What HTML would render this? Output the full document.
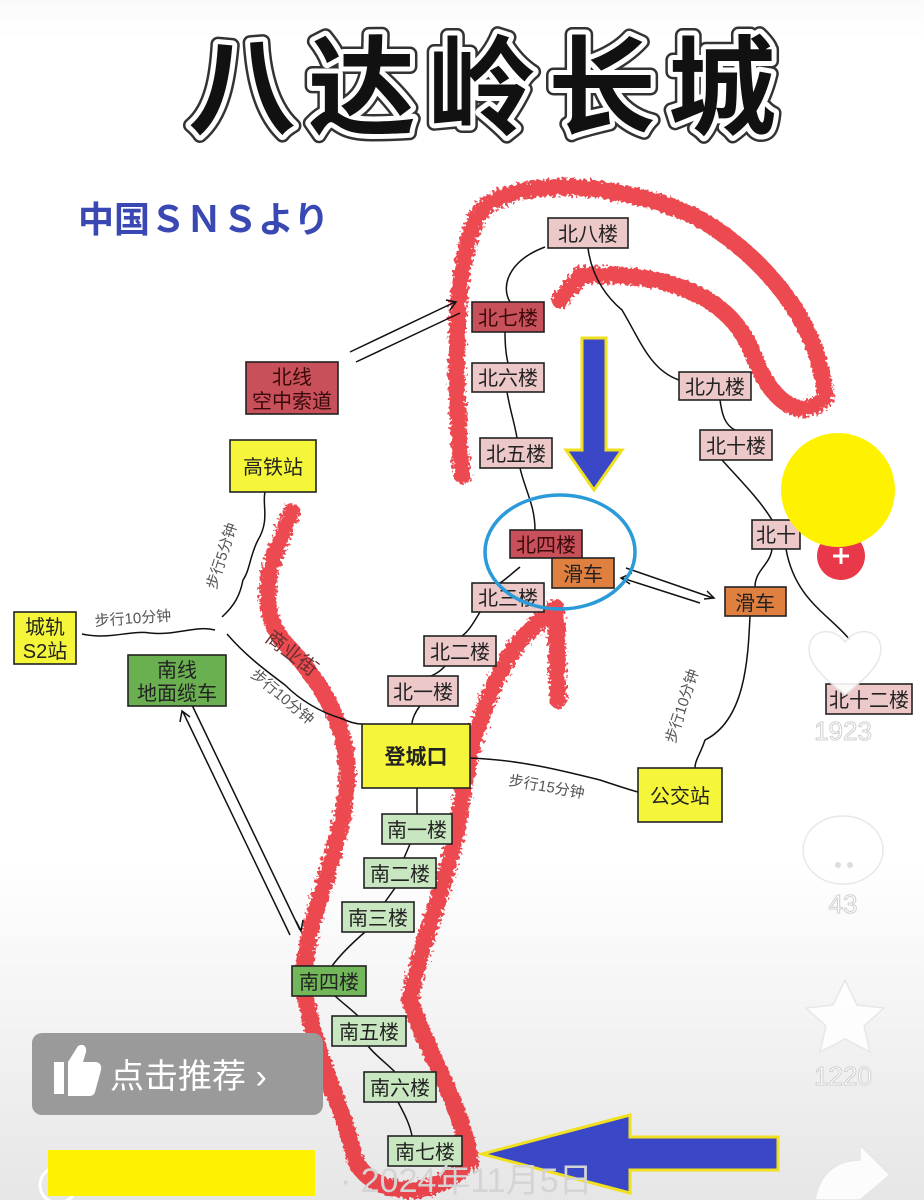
<!DOCTYPE html>
<html><head><meta charset="utf-8"><style>
html,body{margin:0;padding:0;width:924px;height:1200px;overflow:hidden;}
body{background:linear-gradient(#fafafa 0,#ffffff 40px,#ffffff 860px,#e6e6e6 1200px);}
svg{position:absolute;left:0;top:0}
text{font-family:"Liberation Sans","Noto Sans CJK SC",sans-serif;}
</style></head><body>
<svg width="924" height="1200" viewBox="0 0 924 1200" xmlns="http://www.w3.org/2000/svg">
<defs>
<filter id="rough" x="-10%" y="-10%" width="120%" height="120%">
<feTurbulence type="fractalNoise" baseFrequency="0.3" numOctaves="2" result="n"/>
<feDisplacementMap in="SourceGraphic" in2="n" scale="10"/>
</filter>
</defs>
<!-- title -->
<g font-size="108" font-weight="bold" text-anchor="middle" font-family="'Liberation Sans','Noto Sans CJK SC',sans-serif">
<text x="488" y="126" fill="#fff" stroke="#333" stroke-width="15" stroke-linejoin="round" letter-spacing="12">八达岭长城</text>
<text x="488" y="126" fill="#fff" stroke="#fff" stroke-width="10" stroke-linejoin="round" letter-spacing="12">八达岭长城</text>
<text x="488" y="126" fill="#111" letter-spacing="12">八达岭长城</text>
</g>
<text x="78" y="232" font-size="36" font-weight="bold" fill="#3a48b4">中国ＳＮＳより</text>

<!-- red scribbles -->
<g fill="none" stroke="#e8202a" stroke-width="17" stroke-linecap="round" stroke-linejoin="round" filter="url(#rough)" opacity="0.82">
<path d="M462,475 C455,390 450,270 478,215 C510,170 640,185 705,222 C770,262 822,330 825,398 C800,422 772,404 752,352 C728,292 660,272 582,275 L560,300"/>
<path d="M292,512 C270,560 255,600 282,640 C330,690 355,740 345,800 C335,870 300,930 305,990 C315,1060 345,1110 355,1160 C375,1200 440,1200 470,1160 C460,1100 430,1060 410,1000 C420,940 450,880 460,810 C470,740 490,680 520,640 C540,620 550,612 556,608 L558,700"/>
</g>

<!-- connectors -->
<g fill="none" stroke="#111" stroke-width="1.5">
<path d="M545,247 C510,260 500,285 510,302"/>
<path d="M588,248 C592,280 610,300 622,310 C640,340 650,370 679,380"/>
<path d="M505,332 C505,345 506,355 508,363"/>
<path d="M507,392 C510,410 515,425 517,438"/>
<path d="M520,468 C525,490 535,505 535,530"/>
<path d="M520,567 C510,575 505,580 500,583"/>
<path d="M480,612 C475,620 470,630 462,636"/>
<path d="M445,666 C440,672 432,676 430,676"/>
<path d="M420,706 C415,712 412,720 412,724"/>
<path d="M720,400 C722,415 725,425 735,430"/>
<path d="M722,460 C740,480 760,500 772,520"/>
<path d="M772,549 C770,565 755,570 755,587"/>
<path d="M786,549 C795,600 830,615 850,640"/>
<path d="M750,616 C748,660 745,720 705,740 C700,755 695,760 695,768"/>
<path d="M470,758 C520,760 560,770 600,780 C615,785 630,790 638,792"/>
<path d="M417,788 L417,814"/>
<path d="M410,844 L404,858"/>
<path d="M395,888 L385,902"/>
<path d="M365,932 C350,945 340,955 332,966"/>
<path d="M335,996 C345,1005 352,1010 358,1016"/>
<path d="M368,1046 C375,1055 385,1062 395,1072"/>
<path d="M398,1102 C405,1115 410,1125 412,1136"/>
<path d="M265,492 C262,505 270,520 258,540 C250,555 250,570 243,580 C240,595 235,605 222,617"/>
<path d="M82,634 C110,640 130,630 150,633 C175,636 195,625 215,630"/>
<path d="M227,634 C245,655 265,670 285,685 C300,700 320,712 340,718 C350,722 355,724 362,724"/>
</g>
<!-- double arrows -->
<g stroke="#111" stroke-width="1.5" fill="none">
<path d="M350,352 L455,302 M446,300 L456,302 L450,310"/>
<path d="M356,362 L460,313"/>
<path d="M626,568 L713,598 M704,599 L714,598 L707,591"/>
<path d="M622,578 L700,603 M632,573 L621,578 L630,584"/>
<path d="M192,705 L300,930 M296,921 L301,931 L303,920"/>
<path d="M183,712 L290,935 M180,722 L182,711 L190,717"/>
</g>
<!-- connector labels -->
<g font-size="15" fill="#555">
<text x="95" y="626" transform="rotate(-4 95 626)">步行10分钟</text>
<text transform="translate(216,590) rotate(-72)">步行5分钟</text>
<text transform="translate(250,676) rotate(40)">步行10分钟</text>
<text transform="translate(508,785) rotate(10)">步行15分钟</text>
<text transform="translate(675,744) rotate(-72)">步行10分钟</text>
<text transform="translate(264,640) rotate(38)" font-size="20" fill="#6a3030">商业街</text>
</g>

<!-- nodes -->
<g stroke="#222" stroke-width="1.6">
<rect x="548" y="218" width="80" height="30" fill="#ecc8c8"/>
<rect x="472" y="302" width="72" height="30" fill="#c8505a"/>
<rect x="472" y="363" width="72" height="29" fill="#ecc8c8"/>
<rect x="480" y="438" width="72" height="30" fill="#ecc8c8"/>
<rect x="472" y="583" width="72" height="29" fill="#ecc8c8"/>
<rect x="510" y="530" width="72" height="28" fill="#c8505a"/>
<rect x="552" y="558" width="62" height="30" fill="#e08040"/>
<rect x="424" y="636" width="72" height="30" fill="#ecc8c8"/>
<rect x="388" y="676" width="70" height="30" fill="#ecc8c8"/>
<rect x="362" y="724" width="108" height="64" fill="#f5f53a"/>
<rect x="382" y="814" width="70" height="30" fill="#c8e6c0"/>
<rect x="364" y="858" width="72" height="30" fill="#c8e6c0"/>
<rect x="342" y="902" width="72" height="30" fill="#c8e6c0"/>
<rect x="292" y="966" width="74" height="30" fill="#72b85a"/>
<rect x="332" y="1016" width="74" height="30" fill="#c8e6c0"/>
<rect x="364" y="1072" width="72" height="30" fill="#c8e6c0"/>
<rect x="388" y="1136" width="74" height="30" fill="#c8e6c0"/>
<rect x="246" y="362" width="92" height="52" fill="#c8505a"/>
<rect x="230" y="440" width="86" height="52" fill="#f5f53a"/>
<rect x="14" y="612" width="62" height="52" fill="#f5f53a"/>
<rect x="128" y="655" width="98" height="51" fill="#6ab050"/>
<rect x="638" y="768" width="84" height="54" fill="#f5f53a"/>
<rect x="725" y="587" width="61" height="29" fill="#e08040"/>
<rect x="679" y="372" width="72" height="28" fill="#ecc8c8"/>
<rect x="700" y="430" width="72" height="30" fill="#ecc8c8"/>
<rect x="752" y="520" width="48" height="29" fill="#ecc8c8"/>
<rect x="826" y="684" width="86" height="30" fill="#ecc8c8"/>
</g>
<g font-size="20" text-anchor="middle" fill="#222">
<text x="588" y="241">北八楼</text>
<text x="508" y="325" fill="#3a0a0a">北七楼</text>
<text x="508" y="385">北六楼</text>
<text x="516" y="461">北五楼</text>
<text x="508" y="605">北三楼</text>
<text x="546" y="552" fill="#3a0a0a">北四楼</text>
<text x="583" y="581">滑车</text>
<text x="460" y="659">北二楼</text>
<text x="423" y="699">北一楼</text>
<text x="416" y="764" font-weight="bold" font-size="21">登城口</text>
<text x="417" y="837">南一楼</text>
<text x="400" y="881">南二楼</text>
<text x="378" y="925">南三楼</text>
<text x="329" y="989">南四楼</text>
<text x="369" y="1039">南五楼</text>
<text x="400" y="1095">南六楼</text>
<text x="425" y="1159">南七楼</text>
<text x="292" y="384" fill="#3a0a0a">北线</text>
<text x="292" y="408" fill="#3a0a0a">空中索道</text>
<text x="273" y="474">高铁站</text>
<text x="45" y="634">城轨</text>
<text x="45" y="658">S2站</text>
<text x="177" y="677">南线</text>
<text x="177" y="700">地面缆车</text>
<text x="680" y="803">公交站</text>
<text x="755" y="610">滑车</text>
<text x="715" y="394">北九楼</text>
<text x="736" y="453">北十楼</text>
<text x="776" y="542">北十</text>
<text x="869" y="707">北十二楼</text>
</g>

<!-- blue ellipse -->
<ellipse cx="560" cy="552" rx="75" ry="57" fill="none" stroke="#2a9ad8" stroke-width="3.5"/>
<!-- blue down arrow -->
<path d="M582,338 L606,338 L606,450 L622,450 L594,490 L566,450 L582,450 Z" fill="#3a48c8" stroke="#f0e020" stroke-width="3"/>
<!-- blue left arrow -->
<path d="M778,1137 L630,1137 L630,1115 L482,1154 L630,1193 L630,1170 L778,1170 Z" fill="#3a48c8" stroke="#f0e020" stroke-width="3"/>

<!-- right side UI -->
<circle cx="841" cy="556" r="24" fill="#e8384a"/>
<path d="M833,556 h16 M841,548 v16" stroke="#fff" stroke-width="3"/>
<circle cx="838" cy="490" r="57" fill="#fff200"/>
<g fill="#fff" stroke="#e6e6e6" stroke-width="1.5" opacity="0.9">
<path d="M845,695 C820,675 805,660 810,643 C815,628 835,628 845,642 C855,628 875,628 880,643 C885,660 870,675 845,695 Z"/>
<ellipse cx="843" cy="850" rx="40" ry="34"/>
<path d="M845,980 L857,1005 L884,1008 L864,1026 L870,1052 L845,1039 L820,1052 L826,1026 L806,1008 L833,1005 Z"/>
<path d="M815,1200 C820,1170 840,1160 860,1160 L860,1145 L890,1175 L860,1200 Z"/>
</g>
<g font-size="26" fill="#fff" stroke="#d0d0d0" stroke-width="1" text-anchor="middle">
<text x="843" y="740">1923</text>
<text x="843" y="913">43</text>
<text x="843" y="1085">1220</text>
</g>
<circle cx="838" cy="865" r="3" fill="#ddd"/><circle cx="850" cy="865" r="3" fill="#ddd"/>

<!-- bottom overlays -->
<rect x="32" y="1033" width="291" height="82" rx="10" fill="#9a9a9a"/>
<path d="M54,1062 h10 v32 h-10 Z M68,1062 l10,-16 c5,-3 9,0 8,6 l-3,10 h12 c5,0 7,4 6,8 l-6,22 c-1,3 -3,4 -6,4 h-21 Z" fill="#fff"/>
<text x="110" y="1088" font-size="34" fill="#fff">点击推荐 ›</text>
<text x="340" y="1192" font-size="34" fill="#d4d4d4">· 2024年11月5日</text>
<circle cx="58" cy="1185" r="18" fill="none" stroke="#fff" stroke-width="3"/>
<rect x="48" y="1150" width="267" height="46" fill="#fff200"/>
</svg>
</body></html>
